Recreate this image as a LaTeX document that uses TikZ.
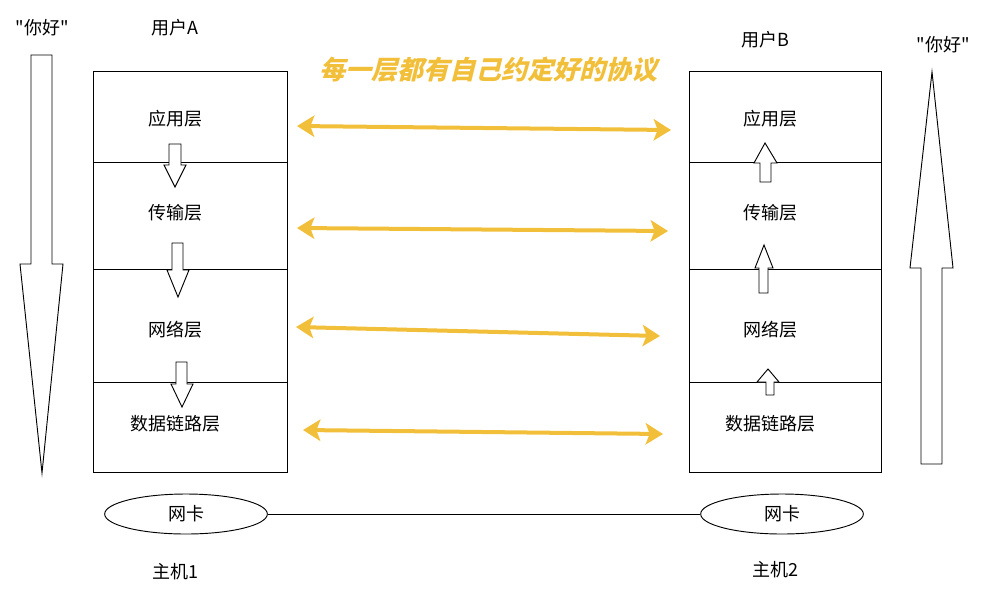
\documentclass[tikz,border=0pt]{standalone}
\usepackage{fontspec}
\setmainfont{Noto Sans CJK SC}
\newfontfamily\labelfont{Noto Sans CJK SC}
\newfontfamily\titlefont[FakeSlant=0.25]{Noto Sans CJK SC}
\usetikzlibrary{arrows.meta, shapes.geometric}
\definecolor{protogold}{HTML}{F2BF3A}

\begin{document}
\begin{tikzpicture}[
    x=0.75pt, y=-0.75pt,
    line width=0.7pt,
    cell/.style={draw, rectangle, inner sep=0pt},
    txt/.style={align=center, font=\labelfont\fontsize{13.5}{16}\selectfont},
    titletxt/.style={font=\titlefont\bfseries\fontsize{19.5}{22}\selectfont, text=protogold},
    nic/.style={draw, ellipse, minimum width=122pt, minimum height=30pt, inner sep=0pt, txt},
    blockarrow/.style={draw, fill=white, line join=miter},
    protoarrow/.style={{Stealth[length=13pt, width=16pt, inset=3pt]}-{Stealth[length=13pt, width=16pt, inset=3pt]}, line width=3pt, protogold}
]
\useasboundingbox (0,0) rectangle (984,590);

% ==========================================
% Host 1 (left stack)
% ==========================================
\node[cell, minimum width=145.5pt, minimum height=68.25pt] (A_app)  at (190,116.5) {};
\node[cell, minimum width=145.5pt, minimum height=80.25pt] (A_tran) at (190,215.5) {};
\node[cell, minimum width=145.5pt, minimum height=84.75pt] (A_net)  at (190,325.5) {};
\node[cell, minimum width=145.5pt, minimum height=67.5pt]  (A_link) at (190,427) {};

\node[txt] (userA) at (175,28) {用户A};
\node[txt] (A_app_t)  at (175,119) {应用层};
\node[txt] (A_tran_t) at (175,213) {传输层};
\node[txt] (A_net_t)  at (175,330) {网络层};
\node[txt] (A_link_t) at (175,424) {数据链路层};

% down arrows between layers
\draw[blockarrow] (169,144) -- (181,144) -- (181,165) -- (186,165) -- (175,187) -- (164,165) -- (169,165) -- cycle;
\draw[blockarrow] (172,243) -- (183,243) -- (183,270) -- (189,270) -- (178,297) -- (167,270) -- (172,270) -- cycle;
\draw[blockarrow] (176,362) -- (187,362) -- (187,384) -- (193,384) -- (182,407) -- (171,384) -- (176,384) -- cycle;

% big sending arrow
\node[txt] (helloA) at (42,28) {"你好"};
\draw[blockarrow] (31,55) -- (52,55) -- (52,264) -- (63,264) -- (42,473) -- (20,264) -- (31,264) -- cycle;

\node[nic] (nicA) at (186,514) {网卡};
\node[txt] (hostA) at (175,572) {主机1};

% ==========================================
% Host 2 (right stack)
% ==========================================
\node[cell, minimum width=144pt, minimum height=68.25pt] (B_app)  at (785,116.5) {};
\node[cell, minimum width=144pt, minimum height=80.25pt] (B_tran) at (785,215.5) {};
\node[cell, minimum width=144pt, minimum height=84.75pt] (B_net)  at (785,325.5) {};
\node[cell, minimum width=144pt, minimum height=67.5pt]  (B_link) at (785,427) {};

\node[txt] (userB) at (765,40) {用户B};
\node[txt] (B_app_t)  at (770,119) {应用层};
\node[txt] (B_tran_t) at (770,213) {传输层};
\node[txt] (B_net_t)  at (770,330) {网络层};
\node[txt] (B_link_t) at (770,424) {数据链路层};

% up arrows between layers
\draw[blockarrow] (760,182) -- (771,182) -- (771,163) -- (777,163) -- (765,143) -- (754,163) -- (760,163) -- cycle;
\draw[blockarrow] (759,293) -- (768,293) -- (768,268) -- (773,268) -- (764,245) -- (755,268) -- (759,268) -- cycle;
\draw[blockarrow] (766,395) -- (774,395) -- (774,382) -- (779,382) -- (768,369) -- (757,382) -- (766,382) -- cycle;

% big receiving arrow
\node[txt] (helloB) at (943,45) {"你好"};
\draw[blockarrow] (921,464) -- (942,464) -- (942,268) -- (953,268) -- (932,72) -- (910,268) -- (921,268) -- cycle;

\node[nic] (nicB) at (782,514) {网卡};
\node[txt] (hostB) at (775,570) {主机2};

% wire
\draw (nicA.east) -- (nicB.west);

% ==========================================
% Peer protocols
% ==========================================
\node[titletxt] (proto) at (488,70) {每一层都有自己约定好的协议};

\coordinate (pA1) at (297,126); \coordinate (pB1) at (671,130);
\coordinate (pA2) at (297,228); \coordinate (pB2) at (668,231);
\coordinate (pA3) at (296,327); \coordinate (pB3) at (660,336);
\coordinate (pA4) at (303,430); \coordinate (pB4) at (663,434);
\draw[protoarrow] (pA1) -- (pB1);
\draw[protoarrow] (pA2) -- (pB2);
\draw[protoarrow] (pA3) -- (pB3);
\draw[protoarrow] (pA4) -- (pB4);

\end{tikzpicture}
\end{document}
